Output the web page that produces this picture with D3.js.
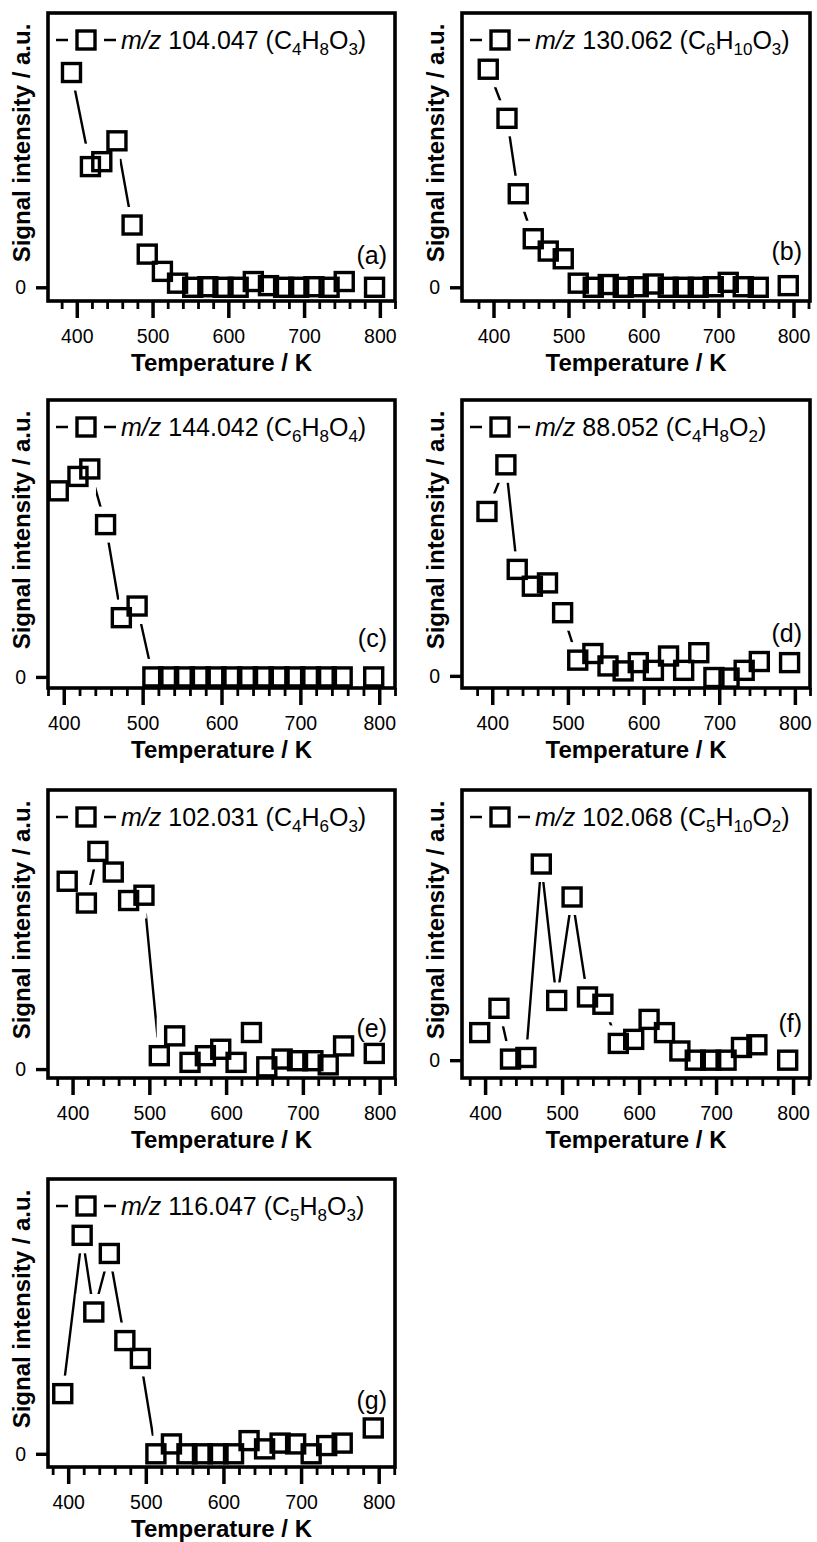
<!DOCTYPE html>
<html>
<head>
<meta charset="utf-8">
<script src="https://cdn.jsdelivr.net/npm/d3@7"></script>
<style>
  html, body { margin: 0; padding: 0; background: #fff; }
  svg { display: block; }
</style>
</head>
<body>
<div id="graph"></div>
<script>
//----------------------------------------------------------
// data

// sample temperatures (K), shared by all panels
var g_temperature = [393, 418, 433, 453, 473, 493, 513, 533, 553, 573,
                     593, 613, 633, 653, 673, 693, 713, 733, 753, 793];

// signal, one array per ion (a.u., full panel height = 1)
var g_mz104 = [0.783, 0.440, 0.458, 0.534, 0.227, 0.121, 0.058, 0.015, 0.000, 0.002,
               0.000, 0.000, 0.021, 0.006, 0.000, 0.000, 0.002, 0.000, 0.021, 0.000];
var g_mz130 = [0.795, 0.616, 0.341, 0.177, 0.132, 0.104, 0.015, 0.000, 0.010, 0.000,
               0.002, 0.012, 0.000, 0.000, 0.000, 0.002, 0.018, 0.002, 0.000, 0.006];
var g_mz144 = [0.672, 0.724, 0.751, 0.550, 0.214, 0.256, 0.000, 0.000, 0.000, 0.000,
               0.000, 0.000, 0.000, 0.000, 0.000, 0.000, 0.000, 0.000, 0.000, 0.000];
var g_mz88 = [0.596, 0.765, 0.386, 0.325, 0.337, 0.229, 0.057, 0.081, 0.036, 0.018,
              0.048, 0.020, 0.072, 0.020, 0.084, -0.006, -0.008, 0.020, 0.052, 0.048];
var g_mz102a = [0.673, 0.595, 0.780, 0.706, 0.604, 0.623, 0.048, 0.119, 0.024, 0.048,
                0.071, 0.024, 0.131, 0.008, 0.036, 0.030, 0.030, 0.015, 0.083, 0.056];
var g_mz102b = [0.102, 0.192, 0.004, 0.010, 0.726, 0.221, 0.604, 0.234, 0.207, 0.062,
                0.077, 0.151, 0.102, 0.034, 0.000, 0.000, 0.000, 0.047, 0.057, 0.000];
var g_mz116 = [0.219, 0.795, 0.516, 0.729, 0.412, 0.347, 0.000, 0.036, 0.000, 0.000,
               0.000, 0.000, 0.048, 0.018, 0.039, 0.036, 0.000, 0.030, 0.039, 0.094];

var g_series = [g_mz104, g_mz130, g_mz144, g_mz88, g_mz102a, g_mz102b, g_mz116];

// legend text
var g_mass = ["104.047", "130.062", "144.042", "88.052", "102.031", "102.068", "116.047"];
var g_formula = [
    [["C", "4"], ["H", "8"], ["O", "3"]],
    [["C", "6"], ["H", "10"], ["O", "3"]],
    [["C", "6"], ["H", "8"], ["O", "4"]],
    [["C", "4"], ["H", "8"], ["O", "2"]],
    [["C", "4"], ["H", "6"], ["O", "3"]],
    [["C", "5"], ["H", "10"], ["O", "2"]],
    [["C", "5"], ["H", "8"], ["O", "3"]]
];
var g_letter = ["a", "b", "c", "d", "e", "f", "g"];

// axes
var g_xTicks = [400, 500, 600, 700, 800];
var g_yTicks = [0];
var g_xRange = [[362, 820], [358, 822], [380, 820], [360, 820], [368, 820], [370, 822], [374, 821]];
var g_yRange = [[-0.050, 1], [-0.050, 1], [-0.040, 1], [-0.044, 1], [-0.032, 1], [-0.066, 1], [-0.048, 1]];
var g_xTitle = "Temperature / K";
var g_yTitle = "Signal intensity / a.u.";


//----------------------------------------------------------
// layout

var g_colLeft = [48, 462];
var g_colWidth = [347, 348];
var g_rowTop = [13, 400, 790, 1179];
var g_panelHeight = 288;
var g_tagOffset = [251, 247, 247, 242, 247, 242, 230];

var g_font = "'Liberation Sans', Arial, Helvetica, sans-serif";
var g_tickFont = 19.5;
var g_marker = 18;
var g_halo = 36;
var g_subShift = 6;

var g_svg = d3.select("#graph")
  .append("svg")
    .attr("width", 817)
    .attr("height", 1542)
    .attr("font-family", g_font);


//----------------------------------------------------------
function AddSquares(group, points, size, fill, stroke) {
    group
      .selectAll(null)
      .data(points)
      .join("rect")
        .attr("x", function (p) { return p[0] - size / 2; })
        .attr("y", function (p) { return p[1] - size / 2; })
        .attr("width", size)
        .attr("height", size)
        .attr("fill", fill)
        .attr("stroke", stroke ? "#000" : "none")
        .attr("stroke-width", 3.4);
}


function AddLegend(panel, index, left, top) {
    const ly = top + 27;
    const lx = left + 38;

    panel
      .append("line")
        .attr("x1", left + 8).attr("x2", left + 68)
        .attr("y1", ly).attr("y2", ly)
        .attr("stroke", "#000")
        .attr("stroke-width", 2.4);
    AddSquares(panel.append("g"), [[lx, ly]], g_halo, "#fff", false);
    AddSquares(panel.append("g"), [[lx, ly]], g_marker, "none", true);

    const legend = panel
      .append("text")
        .attr("x", left + 73)
        .attr("y", top + 36)
        .attr("font-size", 25);
    legend.append("tspan").attr("font-style", "italic").text("m/z");
    legend.append("tspan").text(" " + g_mass[index] + " (");

    // element symbols with lowered counts
    g_formula[index].forEach(function (part, k) {
        legend.append("tspan").attr("dy", k > 0 ? -g_subShift : 0).text(part[0]);
        legend.append("tspan").attr("font-size", 17).attr("dy", g_subShift).text(part[1]);
    });
    legend.append("tspan").attr("dy", -g_subShift).text(")");
}


function StyleAxisText(g) {
    g.attr("font-family", g_font).attr("font-size", g_tickFont);
    g.selectAll("text").attr("fill", "#000");
}


function DrawPanel(index) {
    const col = index % 2;
    const row = Math.floor(index / 2);
    const left = g_colLeft[col];
    const width = g_colWidth[col];
    const top = g_rowTop[row];
    const height = g_panelHeight;
    const bottom = top + height;

    const x = d3.scaleLinear().domain(g_xRange[index]).range([left, left + width]);
    const y = d3.scaleLinear().domain(g_yRange[index]).range([bottom, top]);

    const values = g_series[index];
    const points = g_temperature.map(function (t, k) {
        return [x(t), y(values[k])];
    });

    const panel = g_svg.append("g");

    // connecting line, then white knock-outs around each marker
    panel
      .append("path")
        .attr("d", d3.line()(points))
        .attr("fill", "none")
        .attr("stroke", "#000")
        .attr("stroke-width", 2.4);

    AddSquares(panel.append("g"), points, g_halo, "#fff", false);

    AddLegend(panel, index, left, top);

    // x axis: major and minor ticks
    const minor = d3.range(380, 821, 20).filter(function (v) {
        return v % 100 !== 0 && v >= g_xRange[index][0] && v <= g_xRange[index][1];
    });

    panel
      .append("g")
        .attr("transform", "translate(0," + bottom + ")")
        .call(d3.axisBottom(x).tickValues(minor).tickSize(8).tickFormat(""))
        .call(function (g) { g.select(".domain").remove(); })
        .call(function (g) { g.selectAll("line").attr("stroke-width", 2.8); });

    panel
      .append("g")
        .attr("transform", "translate(0," + bottom + ")")
        .call(d3.axisBottom(x).tickValues(g_xTicks).tickSize(17).tickPadding(11.5).tickFormat(d3.format("d")))
        .call(function (g) { g.select(".domain").remove(); })
        .call(function (g) { g.selectAll("line").attr("stroke-width", 3.5); })
        .call(StyleAxisText);

    // y axis: single zero tick
    panel
      .append("g")
        .attr("transform", "translate(" + left + ",0)")
        .call(d3.axisLeft(y).tickValues(g_yTicks).tickSize(12).tickPadding(10).tickFormat(d3.format("d")))
        .call(function (g) { g.select(".domain").remove(); })
        .call(function (g) { g.selectAll("line").attr("stroke-width", 3.4); })
        .call(StyleAxisText);

    // frame
    panel
      .append("rect")
        .attr("x", left)
        .attr("y", top)
        .attr("width", width)
        .attr("height", height)
        .attr("fill", "none")
        .attr("stroke", "#000")
        .attr("stroke-width", 3.6);

    // data markers
    AddSquares(panel.append("g"), points, g_marker, "none", true);

    // titles and panel tag
    panel
      .append("text")
        .attr("x", left + width / 2)
        .attr("y", bottom + 69.5)
        .attr("text-anchor", "middle")
        .attr("font-weight", "bold")
        .attr("font-size", 24)
        .text(g_xTitle);

    panel
      .append("text")
        .attr("transform", "translate(" + (left - 18) + "," + (top + 130) + ") rotate(-90)")
        .attr("text-anchor", "middle")
        .attr("font-weight", "bold")
        .attr("font-size", 24)
        .text(g_yTitle);

    panel
      .append("text")
        .attr("x", left + width - 8)
        .attr("y", top + g_tagOffset[index])
        .attr("text-anchor", "end")
        .attr("font-size", 25)
        .text("(" + g_letter[index] + ")");
}


//----------------------------------------------------------
g_series.forEach(function (s, i) {
    DrawPanel(i);
});
</script>
</body>
</html>
